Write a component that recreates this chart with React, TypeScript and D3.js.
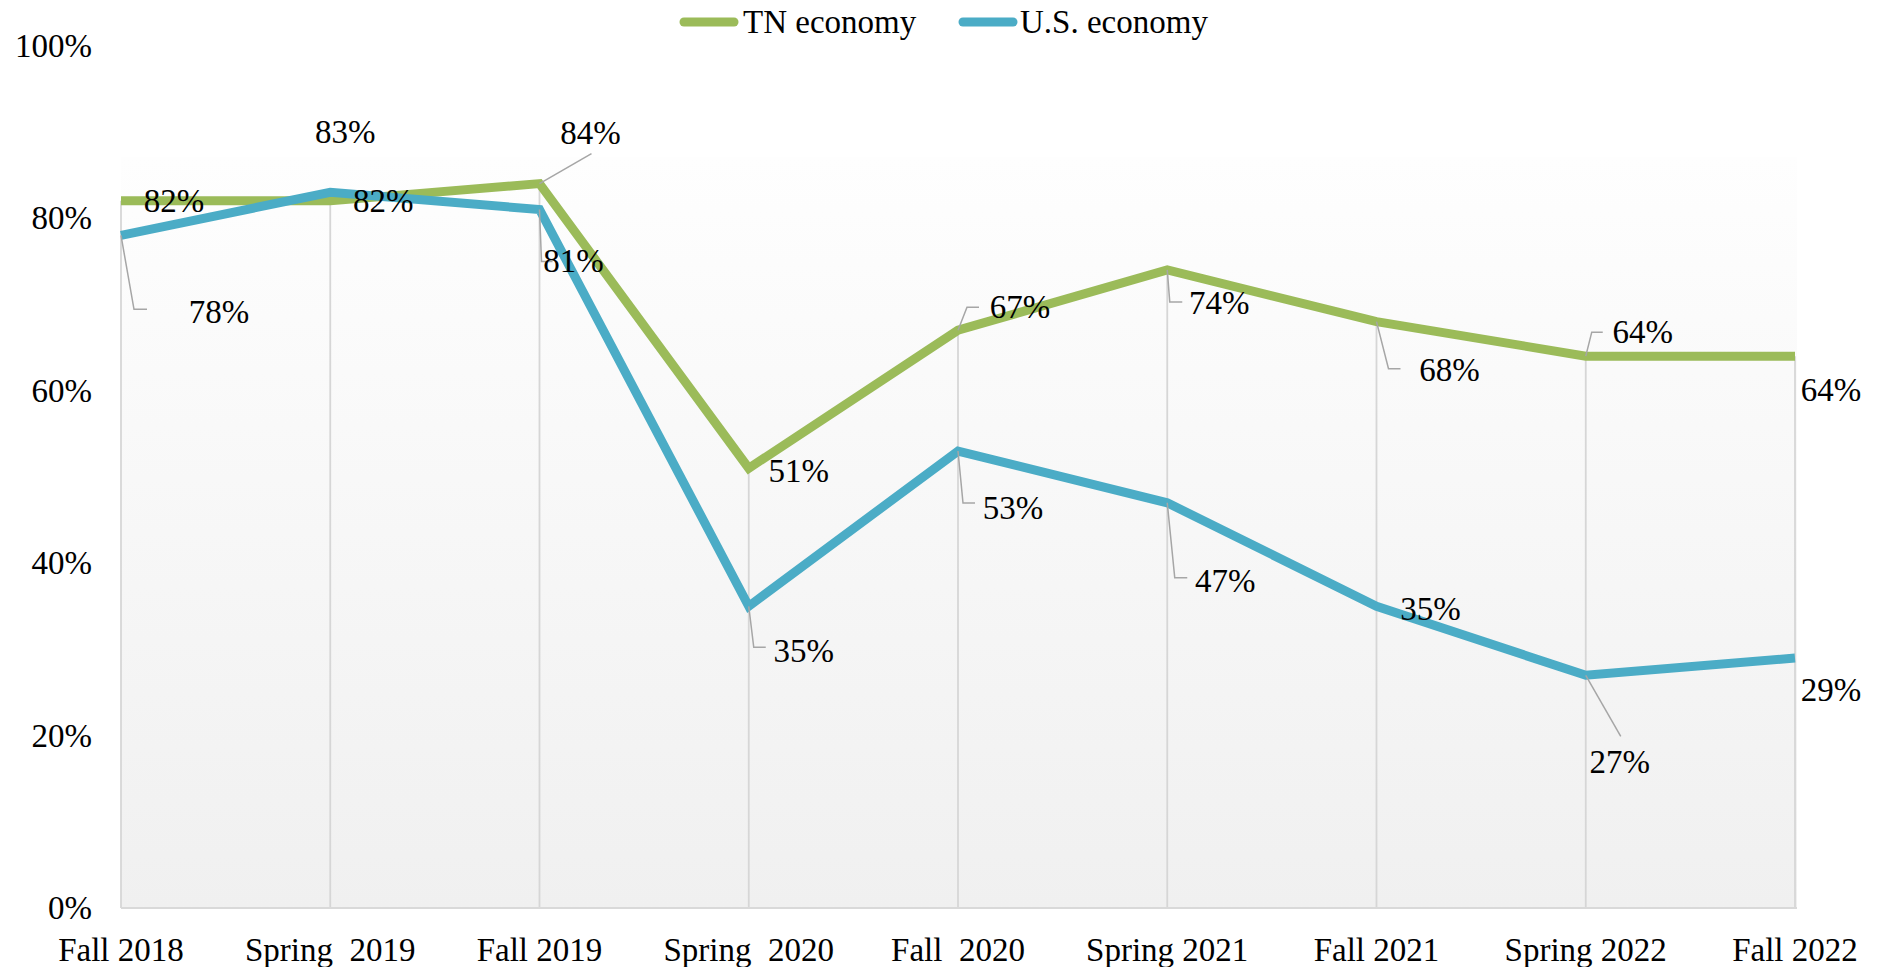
import React from "react";
import * as d3 from "d3";

const categories = ["Fall 2018", "Spring  2019", "Fall 2019", "Spring  2020", "Fall  2020", "Spring 2021", "Fall 2021", "Spring 2022", "Fall 2022"];
const tnValues = [82, 82, 84, 51, 67, 74, 68, 64, 64];
const usValues = [78, 83, 81, 35, 53, 47, 35, 27, 29];
const yTicks = [0, 20, 40, 60, 80, 100];
const seriesNames = ["TN economy", "U.S. economy"];
const seriesColors = ["#9BBB59", "#4BACC6"];

// label layout: offset of label centre from point, and optional leader polyline (relative to point)
type Lab = { dx: number; dy: number; leader?: [number, number][] };
const tnLabels: Lab[] = [
  { dx: 53, dy: 0 },
  { dx: 53, dy: 0 },
  { dx: 51, dy: -51, leader: [[0, 0], [52, -30]] },
  { dx: 50, dy: 3 },
  { dx: 62, dy: -23, leader: [[0, 0], [9, -23], [21, -23]] },
  { dx: 52, dy: 33, leader: [[0, 0], [2.5, 32], [15, 32]] },
  { dx: 73, dy: 48, leader: [[0, 0], [12, 47], [24, 47]] },
  { dx: 57, dy: -24, leader: [[0, 0], [6, -24], [17, -24]] },
  { dx: 36, dy: 34 },
];
const usLabels: Lab[] = [
  { dx: 98, dy: 77, leader: [[0, 0], [13, 74], [26, 74]] },
  { dx: 15, dy: -60 },
  { dx: 34, dy: 52, leader: [[0, 0], [2, 52], [13, 52]] },
  { dx: 55, dy: 45, leader: [[0, 0], [5, 41], [17, 41]] },
  { dx: 55, dy: 57, leader: [[0, 0], [5, 52], [17, 52]] },
  { dx: 58, dy: 78, leader: [[0, 0], [7.5, 75], [20, 75]] },
  { dx: 54, dy: 3 },
  { dx: 34, dy: 87, leader: [[0, 0], [35, 61]] },
  { dx: 36, dy: 32 },
];

const W = 1879;
const H = 967;
const FONT = '"Liberation Serif", "DejaVu Serif", serif';
const FS = 33;
const txt: React.CSSProperties = { fontFamily: FONT, fontSize: FS, whiteSpace: "pre" };

export default function App() {
  const x = d3.scalePoint<string>().domain(categories).range([121, 1795]);
  const y = d3.scaleLinear().domain([0, 100]).range([908.2, 45.6]);
  const plotTop = 157;
  const plotRight = 1797;

  const line = d3
    .line<number>()
    .x((_, i) => x(categories[i]) as number)
    .y((d) => y(d));

  const series = [
    { name: seriesNames[0], values: tnValues, color: seriesColors[0], labels: tnLabels },
    { name: seriesNames[1], values: usValues, color: seriesColors[1], labels: usLabels },
  ];

  const legend = [
    { x0: 680, x1: 738, tx: 743 },
    { x0: 959, x1: 1017, tx: 1020 },
  ];

  return (
    <svg width={W} height={H} style={{ position: "absolute", left: 0, top: 0, background: "#fff" }}>
      <defs>
        <linearGradient id="bg" x1="0" y1="0" x2="0" y2="1">
          <stop offset="0" stopColor="#fefefe" />
          <stop offset="1" stopColor="#f0f0f0" />
        </linearGradient>
      </defs>
      <rect x={121} y={plotTop} width={plotRight - 121} height={908 - plotTop} fill="url(#bg)" />
      {categories.map((c, i) => (
        <line
          key={c}
          x1={x(c)}
          x2={x(c)}
          y1={y(Math.max(tnValues[i], usValues[i]))}
          y2={908}
          stroke="#d6d6d6"
          strokeWidth={1.8}
        />
      ))}
      <line x1={121} x2={plotRight} y1={908} y2={908} stroke="#d9d9d9" strokeWidth={2} />

      {yTicks.map((t) => (
        <text key={t} x={92} y={y(t)} textAnchor="end" dominantBaseline="central" style={txt} fill="#000">
          {t}%
        </text>
      ))}
      {categories.map((c) => (
        <text key={c} x={x(c)} y={950} textAnchor="middle" dominantBaseline="central" style={txt} fill="#000">
          {c}
        </text>
      ))}

      {series.map((s) => (
        <path
          key={s.name}
          d={line(s.values) || ""}
          fill="none"
          stroke={s.color}
          strokeWidth={9}
          strokeLinejoin="miter"
          strokeLinecap="butt"
        />
      ))}

      {series.map((s) =>
        s.values.map((v, i) => {
          const px = x(categories[i]) as number;
          const py = y(v);
          const lab = s.labels[i];
          return (
            <g key={s.name + i}>
              {lab.leader && (
                <polyline
                  points={lab.leader.map(([a, b]) => `${px + a},${py + b}`).join(" ")}
                  fill="none"
                  stroke="#a6a6a6"
                  strokeWidth={1.5}
                />
              )}
              <text
                x={px + lab.dx}
                y={py + lab.dy}
                textAnchor="middle"
                dominantBaseline="central"
                style={txt}
                fill="#000"
              >
                {v}%
              </text>
            </g>
          );
        })
      )}

      {series.map((s, i) => (
        <g key={"lg" + i}>
          <line
            x1={legend[i].x0 + 4}
            x2={legend[i].x1 - 4}
            y1={22}
            y2={22}
            stroke={s.color}
            strokeWidth={9}
            strokeLinecap="round"
          />
          <text x={legend[i].tx} y={22} dominantBaseline="central" style={txt} fill="#000">
            {s.name}
          </text>
        </g>
      ))}
    </svg>
  );
}
